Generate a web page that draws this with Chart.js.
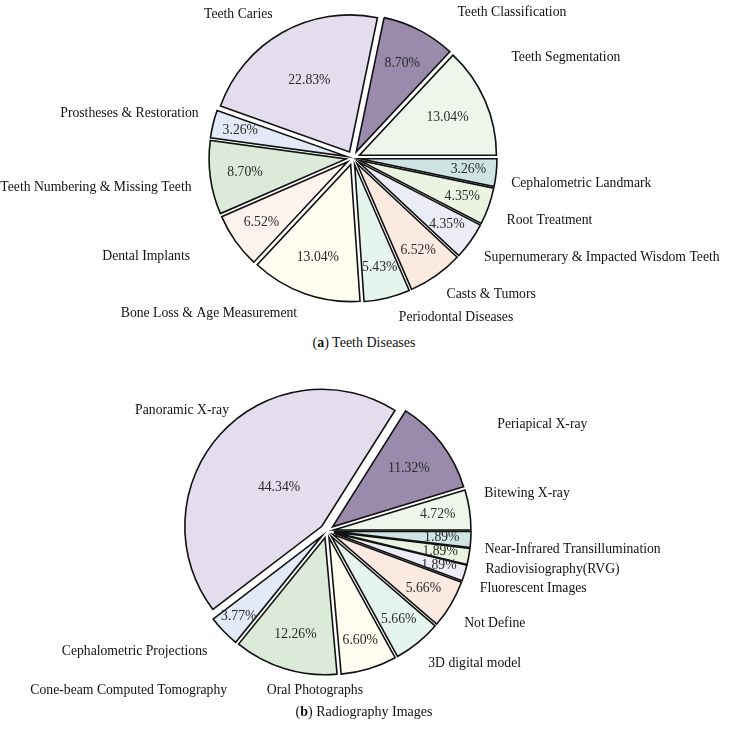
<!DOCTYPE html>
<html>
<head>
<meta charset="utf-8">
<script src="https://cdn.jsdelivr.net/npm/chart.js@4.4.0/dist/chart.umd.min.js"></script>
<style>
  body { margin: 0; background: #fff; }
  #wrap { position: relative; width: 731px; height: 732px; font-family: "Liberation Serif", serif; }
  canvas { position: absolute; left: 0; }
  #chartA { top: 0; }
  #chartB { top: 360px; }
  .cap { position: absolute; left: 0; width: 728px; text-align: center; font-size: 14px; line-height: 16px; color: #111; }
</style>
</head>
<body>
<div id="wrap">
  <canvas id="chartA" width="731" height="330"></canvas>
  <canvas id="chartB" width="731" height="372"></canvas>
  <div class="cap" style="top:335px">(<b>a</b>) Teeth Diseases</div>
  <div class="cap" style="top:704px">(<b>b</b>) Radiography Images</div>
</div>
<script>
// (a) Teeth Diseases, counter-clockwise from 3 o'clock
const diseaseLabels = ['Teeth Segmentation', 'Teeth Classification', 'Teeth Caries', 'Prostheses & Restoration',
  'Teeth Numbering & Missing Teeth', 'Dental Implants', 'Bone Loss & Age Measurement', 'Periodontal Diseases',
  'Casts & Tumors', 'Supernumerary & Impacted Wisdom Teeth', 'Root Treatment', 'Cephalometric Landmark'];
const diseaseValues = [13.04, 8.70, 22.83, 3.26, 8.70, 6.52, 13.04, 5.43, 6.52, 4.35, 4.35, 3.26];

// (b) Radiography Images
const imageLabels = ['Bitewing X-ray', 'Periapical X-ray', 'Panoramic X-ray', 'Cephalometric Projections',
  'Cone-beam Computed Tomography', 'Oral Photographs', '3D digital model', 'Not Define',
  'Fluorescent Images', 'Radiovisiography(RVG)', 'Near-Infrared Transillumination'];
const imageValues = [4.72, 11.32, 44.34, 3.77, 12.26, 6.60, 5.66, 5.66, 1.89, 1.89, 1.89];

// colours
const diseaseColors = ['#eef6ec', '#9a8aab', '#e3dded', '#e1eaf6', '#dcebd9', '#fcf3ed',
  '#fefdf0', '#e6f4ee', '#fbeadf', '#ececf6', '#ebf3e1', '#cde4e3'];
const imageColors = ['#eef6ec', '#9a8aab', '#e3dded', '#e1eaf6', '#dcebd9', '#fefdf0',
  '#e6f4ee', '#fbeadf', '#ececf6', '#ebf3e1', '#cde4e3'];

// label placement tweaks (px) and distance of the % text from centre
const diseaseNudge = [[8, -35], [29, 0], [0, -1], [5, -6], [1, 7], [-29, 4], [-1, 1], [7, 0], [-1, 2], [-3, 5], [-1, 7], [-5, 9]];
const diseasePct = [103, 107, 89, 116, 109, 112, 105, 113, 113, 115, 116, 116];
const imageNudge = [[-5, -13], [40, -7], [23, -10], [-2, 6], [-52, 3], [-108, 3], [-2, 5], [-4, 9], [-4, 9], [-3, 9], [-6, 9]];
const imagePct = [112, 103, 65, 123, 108, 114, 114, 112, 117, 115, 115];

const EXPLODE = 7;
const LABEL_R = 164;
const FONT = '13.7px "Liberation Serif", serif';

// draws each wedge pushed out along its mid angle
const explodePlugin = {
  id: 'explode',
  beforeDatasetDraw(chart, args) {
    const ctx = chart.ctx;
    args.meta.data.forEach(arc => {
      const mid = (arc.startAngle + arc.endAngle) / 2;
      ctx.save();
      ctx.translate(Math.cos(mid) * EXPLODE, Math.sin(mid) * EXPLODE);
      arc.draw(ctx);
      ctx.restore();
    });
    return false;
  }
};

// outer names and inner percentages
const textPlugin = {
  id: 'pieText',
  afterDatasetsDraw(chart) {
    const ctx = chart.ctx;
    const o = chart.options.plugins.pieText;
    const meta = chart.getDatasetMeta(0);
    const n = meta.data.length;
    meta.data.forEach((arc, i) => {
      const k = n - 1 - i; // data was reversed for clockwise drawing
      const mid = (arc.startAngle + arc.endAngle) / 2;
      const c = Math.cos(mid), s = Math.sin(mid);
      ctx.save();
      ctx.font = FONT;
      ctx.textBaseline = 'middle';
      ctx.fillStyle = '#111';
      ctx.textAlign = c >= 0 ? 'left' : 'right';
      ctx.fillText(o.names[k], arc.x + c * LABEL_R + o.nudge[k][0], arc.y + s * LABEL_R + o.nudge[k][1]);
      ctx.fillStyle = '#2a2a2a';
      ctx.textAlign = 'center';
      ctx.fillText(o.values[k].toFixed(2) + '%', arc.x + c * o.pct[k], arc.y + s * o.pct[k]);
      ctx.restore();
    });
  }
};

function makePie(id, names, values, colors, nudge, pct, padding) {
  new Chart(document.getElementById(id), {
    type: 'pie',
    data: {
      labels: names.slice().reverse(),
      datasets: [{
        data: values.slice().reverse(),
        backgroundColor: colors.slice().reverse(),
        borderColor: '#111',
        borderWidth: 1.6,
        borderJoinStyle: 'miter'
      }]
    },
    options: {
      responsive: false,
      animation: false,
      rotation: 90,
      radius: 137,
      layout: { padding: padding },
      plugins: {
        legend: { display: false },
        tooltip: { enabled: false },
        pieText: { names: names, values: values, nudge: nudge, pct: pct }
      }
    },
    plugins: [explodePlugin, textPlugin]
  });
}

makePie('chartA', diseaseLabels, diseaseValues, diseaseColors, diseaseNudge, diseasePct,
  { left: 0, right: 25, top: 0, bottom: 14 });
makePie('chartB', imageLabels, imageValues, imageColors, imageNudge, imagePct,
  { left: 0, right: 77, top: 0, bottom: 30 });
</script>
</body>
</html>
